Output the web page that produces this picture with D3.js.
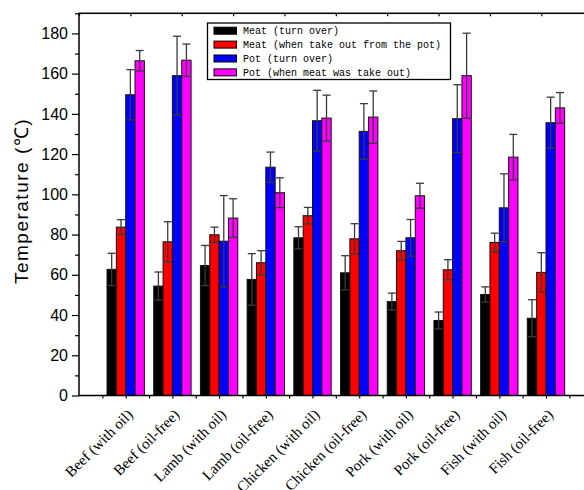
<!DOCTYPE html>
<html>
<head>
<meta charset="utf-8">
<script src="https://cdn.jsdelivr.net/npm/d3@7"></script>
<style>
  body { margin: 0; background: #fff; }
  svg { display: block; }
</style>
</head>
<body>
<div id="chart"></div>
<script>
// data
var categories = ["Beef (with oil)", "Beef (oil-free)", "Lamb (with oil)", "Lamb (oil-free)",
  "Chicken (with oil)", "Chicken (oil-free)", "Pork (with oil)", "Pork (oil-free)",
  "Fish (with oil)", "Fish (oil-free)"];
var seriesNames = ["Meat (turn over)", "Meat (when take out from the pot)",
  "Pot (turn over)", "Pot (when meat was take out)"];
var seriesColors = ["#000000", "#ff0000", "#0000ff", "#ff00ff"];

var meatTurn    = [62.7, 54.4, 64.6, 57.7, 78.4, 61.0, 46.7, 37.3, 50.2, 38.4];
var meatTurnErr = [8.0, 7.0, 10.0, 12.8, 5.5, 8.5, 4.2, 4.2, 3.8, 9.2];
var meatOut     = [83.7, 76.4, 79.9, 66.0, 89.4, 77.9, 72.0, 62.5, 76.1, 61.2];
var meatOutErr  = [3.7, 10.0, 3.8, 6.0, 4.1, 7.5, 4.6, 5.0, 4.6, 9.8];
var potTurn     = [149.5, 159.0, 76.7, 113.5, 136.6, 131.3, 78.4, 137.6, 93.3, 135.6];
var potTurnErr  = [12.5, 19.6, 22.7, 7.5, 15.1, 13.8, 9.1, 16.9, 16.9, 12.7];
var potOut      = [166.4, 166.7, 88.2, 100.8, 137.9, 138.4, 99.3, 159.0, 118.5, 143.0];
var potOutErr   = [5.1, 8.0, 9.6, 7.4, 11.4, 13.0, 6.2, 21.1, 11.3, 7.6];

var yTicks = [0, 20, 40, 60, 80, 100, 120, 140, 160, 180];

var values = [meatTurn, meatOut, potTurn, potOut];
var errors = [meatTurnErr, meatOutErr, potTurnErr, potOutErr];

var W = 584, H = 490;
var pLeft = 79, pTop = 13.3, pBottom = 395.5, pRight = 592.7;

var svg = d3.select("#chart").append("svg")
  .attr("width", W).attr("height", H);

var x = d3.scaleLinear().domain([0, 11]).range([pLeft, pRight]);
var y = d3.scaleLinear().domain([0, 190]).range([pBottom, pTop]);
var bw = 0.2; // bar width in x units

// bars
var rows = [];
categories.forEach(function(c, j) {
  for (var i = 0; i < 4; i++) {
    rows.push({ j: j, i: i, v: values[i][j], e: errors[i][j] });
  }
});

svg.append("g").selectAll("rect")
  .data(rows)
  .enter().append("rect")
    .attr("x", function(d) { return x(d.j + 1 - 0.4 + bw * d.i); })
    .attr("y", function(d) { return y(d.v); })
    .attr("width", function(d) { return x(bw) - x(0); })
    .attr("height", function(d) { return pBottom - y(d.v); })
    .style("fill", function(d) { return seriesColors[d.i]; })
    .style("stroke", "#111")
    .style("stroke-width", 1);

// error bars
var eb = svg.append("g").selectAll("g")
  .data(rows)
  .enter().append("g")
    .attr("transform", function(d) { return "translate(" + x(d.j + 1 - 0.4 + bw * d.i + bw / 2) + ",0)"; })
    .style("stroke", "#3a3a3a")
    .style("stroke-width", 1.3);
eb.append("line")
  .attr("y1", function(d) { return y(d.v - d.e); })
  .attr("y2", function(d) { return y(d.v + d.e); });
eb.append("line")
  .attr("x1", -4).attr("x2", 4)
  .attr("y1", function(d) { return y(d.v + d.e); })
  .attr("y2", function(d) { return y(d.v + d.e); });
eb.append("line")
  .attr("x1", -4).attr("x2", 4)
  .attr("y1", function(d) { return y(d.v - d.e); })
  .attr("y2", function(d) { return y(d.v - d.e); });

// axes
var yAxis = svg.append("g")
  .attr("transform", "translate(" + pLeft + ",0)")
  .call(d3.axisLeft(y).tickValues(yTicks).tickSize(7).tickSizeOuter(0).tickPadding(4));
yAxis.selectAll("text")
  .style("font-family", "Liberation Sans, Arial, sans-serif")
  .style("font-size", "16px")
  .style("fill", "#000");
svg.append("g")
  .attr("transform", "translate(" + pLeft + ",0)")
  .call(d3.axisLeft(y).tickValues(d3.range(10, 191, 20)).tickSize(4).tickFormat("").tickSizeOuter(0));

svg.append("g")
  .attr("transform", "translate(0," + pBottom + ")")
  .call(d3.axisBottom(x).tickValues(d3.range(0.5, 11, 0.5)).tickSize(3).tickFormat("").tickSizeOuter(0));
svg.append("g")
  .attr("transform", "translate(0," + pTop + ")")
  .call(d3.axisBottom(x).tickValues(d3.range(0, 11.01, 1.1)).tickSize(3).tickFormat("").tickSizeOuter(0));

svg.selectAll(".domain").remove();
svg.selectAll(".tick line").style("stroke", "#000").style("stroke-width", 1.2);

// frame
svg.append("rect")
  .attr("x", pLeft).attr("y", pTop)
  .attr("width", pRight - pLeft).attr("height", pBottom - pTop)
  .style("fill", "none").style("stroke", "#000").style("stroke-width", 1.5);

// category labels
svg.append("g").selectAll("text")
  .data(categories)
  .enter().append("text")
    .attr("transform", function(d, j) { return "translate(" + (x(j + 1) + 8) + "," + (pBottom + 20) + ") rotate(-45)"; })
    .attr("text-anchor", "end")
    .style("font-family", "Liberation Serif, 'Times New Roman', serif")
    .style("font-size", "15px")
    .text(function(d) { return d; });

// y title
svg.append("text")
  .attr("transform", "translate(28,201) rotate(-90)")
  .attr("text-anchor", "middle")
  .style("font-family", "Liberation Sans, Arial, sans-serif")
  .style("font-size", "19px")
  .style("letter-spacing", "1.5px")
  .text("Temperature (℃)");

// legend
var lg = svg.append("g");
lg.append("rect")
  .attr("x", 207.5).attr("y", 23)
  .attr("width", 243).attr("height", 56.5)
  .style("fill", "#fff").style("stroke", "#000").style("stroke-width", 1.3);
var li = lg.selectAll("g.item")
  .data(seriesNames)
  .enter().append("g")
    .attr("transform", function(d, i) { return "translate(214," + (30.7 + i * 13.9) + ")"; });
li.append("rect")
  .attr("x", 0).attr("y", -3.5)
  .attr("width", 22.5).attr("height", 7)
  .style("fill", function(d, i) { return seriesColors[i]; })
  .style("stroke", "#000").style("stroke-width", 1);
li.append("text")
  .attr("x", 29).attr("y", 3.5)
  .style("font-family", "Liberation Mono, 'DejaVu Sans Mono', monospace")
  .style("font-size", "10px")
  .text(function(d) { return d; });
</script>
</body>
</html>
